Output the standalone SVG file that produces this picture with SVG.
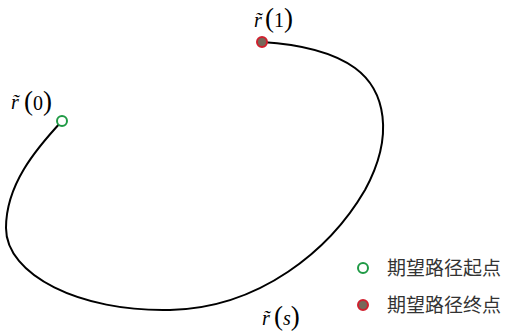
<svg xmlns="http://www.w3.org/2000/svg" width="505" height="334" viewBox="0 0 505 334">
<style>
.m{font-family:"Liberation Serif","Times New Roman",serif;font-size:20px;fill:#000}
.i{font-style:italic}
.p{font-size:27px}
.lg{font-family:"Noto Sans CJK SC","Noto Sans CJK JP",sans-serif;font-size:19px;fill:#333}
.start{fill:#fff;stroke:#1f9a45;stroke-width:2}
.end{fill:#76685a;stroke:#d0202e;stroke-width:2}
</style>
<rect width="505" height="334" fill="#fff"/>
<g id="connectors">
<path d="M62,121 C35,150 6,185 6,228 C6,275 80,312 170,310 C260,308 330,250 365,190 C395,135 385,90 355,68 C330,50 295,44 262,42" fill="none" stroke="#000" stroke-width="2"/>
</g>
<g id="label-r0">
<text class="m" x="11" y="109"><tspan class="i">r&#x303;</tspan><tspan class="p" x="24" y="110">(</tspan><tspan y="110">0</tspan><tspan class="p" y="110">)</tspan></text>
</g>
<g id="label-r1">
<text class="m" x="254" y="27"><tspan class="i">r&#x303;</tspan><tspan class="p" x="265" y="27">(</tspan><tspan y="27">1</tspan><tspan class="p" y="27">)</tspan></text>
</g>
<g id="label-rs">
<text class="m" x="262" y="325"><tspan class="i">r&#x303;</tspan><tspan class="p" x="274" y="325">(</tspan><tspan class="i" y="325">s</tspan><tspan class="p" y="325">)</tspan></text>
</g>
<g id="node-start"><circle class="start" cx="62" cy="121" r="5"/></g>
<g id="node-end"><circle class="end" cx="262" cy="42" r="5"/></g>
<g id="legend-start">
<circle class="start" cx="363" cy="268" r="5"/>
<text class="lg" x="387" y="275">期望路径起点</text>
</g>
<g id="legend-end">
<circle class="end" cx="363" cy="305" r="5"/>
<text class="lg" x="387" y="312">期望路径终点</text>
</g>
</svg>
